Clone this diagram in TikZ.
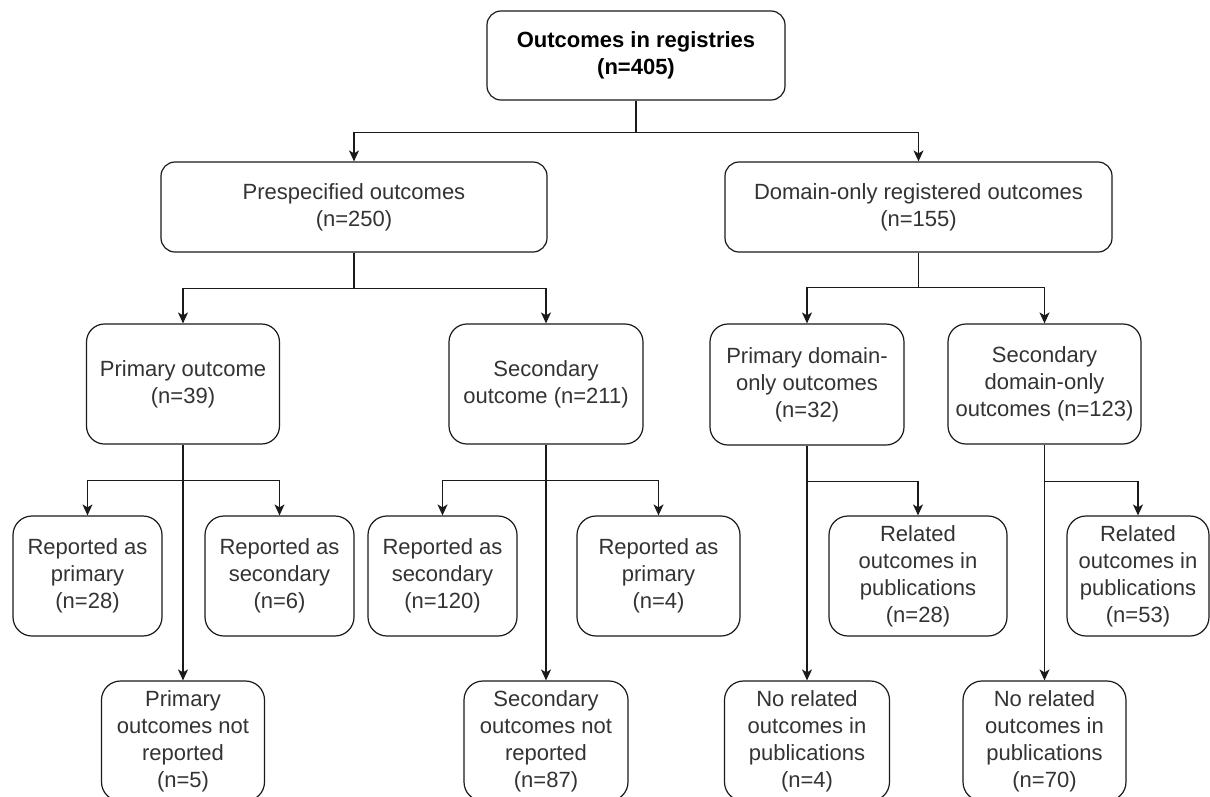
\documentclass[tikz,border=0pt]{standalone}
\usepackage{fontspec}
\setmainfont{Liberation Sans}
\usetikzlibrary{arrows.meta}
\definecolor{linec}{HTML}{1A1A1A}
\definecolor{textc}{HTML}{333333}
\tikzset{
  box/.style={draw=linec, line width=1.2pt, align=center, inner sep=0pt,
    text=textc, font=\fontsize{22}{27}\selectfont},
  bigbox/.style={box, rounded corners=14pt},
  midbox/.style={box, rounded corners=18pt},
  smallbox/.style={box, rounded corners=19pt, minimum height=120pt},
  arr/.style={draw=linec, line width=1.2pt, -{Stealth[length=11pt,width=10pt,inset=3pt]}},
  ln/.style={draw=linec, line width=1.2pt}
}
\begin{document}
\begin{tikzpicture}[x=1pt,y=-1pt]
\useasboundingbox (0,0) rectangle (1210,796);
\clip (0,0) rectangle (1210,796);
\fill[white] (0,0) rectangle (1210,796);

% level 1
\node[bigbox, minimum width=298pt, minimum height=89pt, text=black] (top) at (636,55.5)
  {\bfseries Outcomes in registries\\\bfseries (n=405)};

% level 2
\node[bigbox, minimum width=386pt, minimum height=90pt] (pre) at (354,207)
  {Prespecified outcomes\\(n=250)};
\node[bigbox, minimum width=387pt, minimum height=90pt] (dom) at (918.5,207)
  {Domain-only registered outcomes\\(n=155)};

% level 3
\node[midbox, minimum width=193pt, minimum height=120pt] (po) at (183,384)
  {Primary outcome\\(n=39)};
\node[midbox, minimum width=194pt, minimum height=120pt] (so) at (546,384)
  {Secondary\\outcome (n=211)};
\node[midbox, minimum width=194pt, minimum height=121pt] (pd) at (807,384.5)
  {Primary domain-\\only outcomes\\(n=32)};
\node[midbox, minimum width=193pt, minimum height=120pt] (sd) at (1044.5,384)
  {Secondary\\domain-only\\outcomes (n=123)};

% level 4
\node[smallbox, minimum width=149pt] (rp1) at (87.5,576)
  {Reported as\\primary\\(n=28)};
\node[smallbox, minimum width=149pt] (rs1) at (279.5,576)
  {Reported as\\secondary\\(n=6)};
\node[smallbox, minimum width=149pt] (rs2) at (442.5,576)
  {Reported as\\secondary\\(n=120)};
\node[smallbox, minimum width=163pt] (rp2) at (658.5,576)
  {Reported as\\primary\\(n=4)};
\node[smallbox, minimum width=178pt] (rel1) at (918,576)
  {Related\\outcomes in\\publications\\(n=28)};
\node[smallbox, minimum width=142pt] (rel2) at (1138,576)
  {Related\\outcomes in\\publications\\(n=53)};

% level 5
\node[smallbox, minimum width=163pt] (pnr) at (183,741)
  {Primary\\outcomes not\\reported\\(n=5)};
\node[smallbox, minimum width=164pt] (snr) at (546,741)
  {Secondary\\outcomes not\\reported\\(n=87)};
\node[smallbox, minimum width=165pt] (nr1) at (807,741)
  {No related\\outcomes in\\publications\\(n=4)};
\node[smallbox, minimum width=163pt] (nr2) at (1044.5,741)
  {No related\\outcomes in\\publications\\(n=70)};

% connectors level 1 -> 2
\draw[arr] (top.south) -- ++(0,32) -| (pre.north);
\draw[arr] (top.south) -- ++(0,32) -| (dom.north);

% level 2 -> 3
\draw[arr] (pre.south) -- ++(0,36) -| (po.north);
\draw[arr] (pre.south) -- ++(0,36) -| (so.north);
\draw[arr] (dom.south) -- ++(0,35) -| (pd.north);
\draw[arr] (dom.south) -- ++(0,35) -| (sd.north);

% level 3 -> 4/5
\draw[arr] (po.south) -- (pnr.north);
\draw[arr] (po.south) ++(0,36) -| (rp1.north);
\draw[arr] (po.south) ++(0,36) -| (rs1.north);

\draw[arr] (so.south) -- (snr.north);
\draw[arr] (so.south) ++(0,36) -| (rs2.north);
\draw[arr] (so.south) ++(0,36) -| (rp2.north);

\draw[arr] (pd.south) -- (nr1.north);
\draw[arr] (pd.south) ++(0,36) -| (rel1.north);

\draw[arr] (sd.south) -- (nr2.north);
\draw[arr] (sd.south) ++(0,37) -| (rel2.north);
\end{tikzpicture}
\end{document}
